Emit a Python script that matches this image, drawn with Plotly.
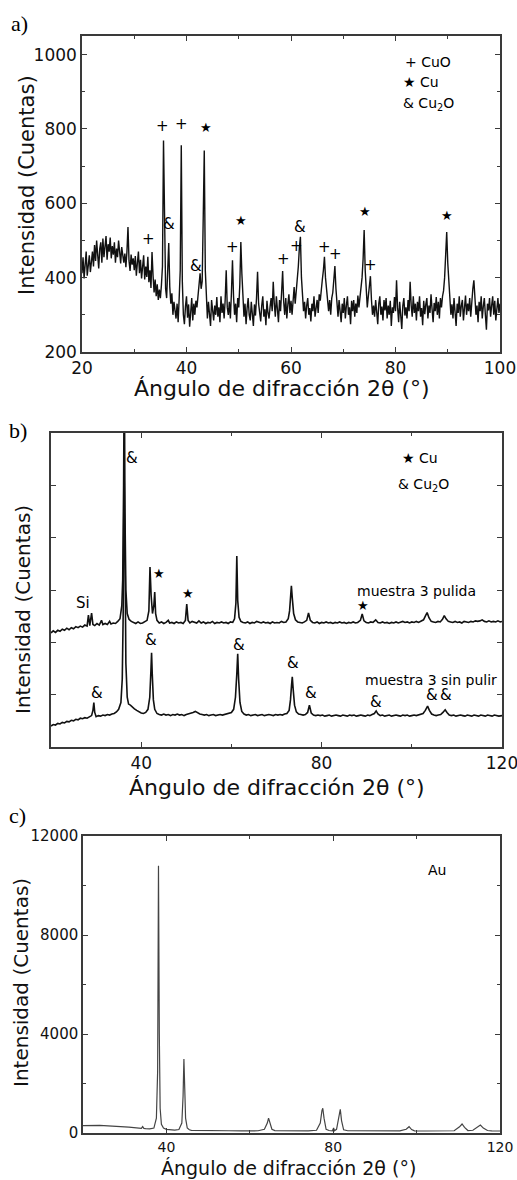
import plotly.graph_objects as go

# ---------------- Panel a: XRD, CuO / Cu / Cu2O (2theta 20..100, step 0.2) -------------
A_X0 = 20.0
A_DX = 0.2
a_counts = [
    412, 455, 398, 440, 470, 405, 432, 460, 415, 448,
    470, 430, 488, 445, 500, 462, 425, 478, 495, 440,
    505, 455, 482, 512, 448, 490, 470, 508, 452, 485,
    462, 495, 440, 478, 455, 500, 470, 438, 482, 460,
    440, 465, 428, 470, 536, 445, 418, 462, 435, 452,
    420, 458, 405, 440, 470, 412, 448, 398, 436, 460,
    395, 430, 402, 456, 388, 420, 372, 469, 405, 360,
    395, 350, 382, 340, 368, 345, 380, 430, 769, 460,
    370, 345, 410, 493, 375, 330, 358, 300, 335, 310,
    290, 330, 280, 345, 420, 756, 390, 300, 275, 322,
    350, 292, 328, 268, 315, 345, 285, 330, 300, 338,
    320, 355, 380, 412, 370, 390, 560, 742, 420, 325,
    290, 335, 300, 270, 340, 310, 285, 325, 300, 348,
    295, 320, 280, 350, 305, 330, 290, 340, 420, 320,
    300, 335, 290, 360, 447, 350, 300, 330, 280, 345,
    320, 380, 496, 410, 340, 295, 330, 275, 318, 345,
    300, 285, 335, 310, 270, 328, 298, 345, 416, 330,
    300, 282, 325, 350, 295, 315, 272, 338, 305, 290,
    322, 345, 310, 389, 330, 295, 350, 318, 280, 340,
    310, 360, 418, 335, 300, 345, 290, 328, 355, 305,
    338, 300, 352, 375, 330, 360, 390, 430, 480, 510,
    400, 350, 310, 335, 290, 325, 345, 300, 318, 282,
    330, 310, 350, 295, 322, 340, 305, 355, 338, 380,
    395, 420, 456, 400, 370, 345, 310, 340, 300, 345,
    360, 395, 431, 370, 330, 295, 340, 315, 280, 330,
    305, 345, 290, 325, 350, 300, 320, 275, 338, 310,
    340, 295, 330, 305, 352, 320, 345, 370, 400, 450,
    528, 420, 360, 320, 350, 380, 404, 340, 300, 325,
    295, 340, 310, 275, 330, 350, 300, 322, 285, 340,
    312, 345, 290, 325, 300, 338, 270, 320, 305, 348,
    310, 393, 320, 280, 335, 300, 262, 325, 345, 298,
    320, 290, 340, 310, 389, 325, 295, 350, 305, 330,
    285, 335, 310, 350, 295, 318, 272, 338, 302, 328,
    345, 290, 325, 305, 355, 315, 280, 332, 310, 348,
    300, 335, 290, 345, 320, 350, 365, 400, 460, 523,
    440, 380, 340, 300, 328, 290, 345, 315, 270, 330,
    305, 350, 295, 325, 340, 285, 318, 352, 300, 330,
    310, 345, 295, 340, 370, 393, 350, 300, 325, 280,
    335, 310, 350, 290, 322, 345, 300, 260, 330, 312,
    345, 295, 325, 350, 300, 338, 285, 320, 345, 305,
    330,
]
a_mark_text = ["+", "+", "★", "&", "+", "&", "+", "★", "&", "+", "+", "+", "+", "★", "+", "★"]
a_mark_x = [35.4, 39.1, 43.7, 36.7, 32.7, 41.8, 48.8, 50.5, 61.8, 61.0, 58.5, 66.5, 68.5, 74.2, 75.2, 89.8]
a_mark_y = [807, 812, 805, 545, 503, 432, 483, 554, 536, 485, 450, 483, 463, 579, 433, 568]
a_legend_text = ["+ CuO", "★ Cu", "& Cu<sub>2</sub>O"]
a_legend_x = [81.4, 81.1, 81.1]
a_legend_y = [981, 925, 866]

# ---------------- Panel b: muestra 3 pulida / sin pulir (arbitrary units) ----------------
b_pul_x = [20.0, 20.5, 21.0, 21.5, 22.0, 22.5, 23.0, 23.5, 24.0, 24.5, 25.0, 25.5, 26.0, 26.5, 27.0, 27.5,
           28.0, 28.3, 28.6, 29.0, 29.3, 29.7, 30.2, 30.7, 31.2, 31.5, 32.0, 32.5, 33.0, 33.3, 33.8, 34.3,
           34.8, 35.3, 35.7, 35.9, 36.1, 36.25, 36.4, 36.6, 36.9, 37.3, 37.8, 38.3, 38.8, 39.3, 39.8, 40.3,
           40.8, 41.3, 41.7, 41.95, 42.2, 42.5, 42.8, 43.0, 43.2, 43.5, 44.0, 44.5, 45.0, 45.5, 46.0, 46.3,
           46.8, 47.3, 47.8, 48.3, 48.8, 49.3, 49.8, 50.1, 50.4, 50.8, 51.3, 51.8, 52.3, 52.8, 53.3, 53.8,
           54.3, 54.8, 55.3, 55.8, 56.3, 56.8, 57.3, 57.8, 58.3, 58.8, 59.3, 59.8, 60.3, 60.7, 61.0, 61.2,
           61.4, 61.7, 62.1, 62.6, 63.1, 63.6, 64.1, 64.6, 65.1, 65.6, 66.1, 66.6, 67.1, 67.6, 68.1, 68.6,
           69.1, 69.6, 70.1, 70.6, 71.1, 71.6, 72.1, 72.6, 72.9, 73.15, 73.3, 73.5, 73.8, 74.2, 74.7, 75.2,
           75.7, 76.2, 76.7, 77.1, 77.5, 78.0, 78.5, 79.0, 79.5, 80.0, 80.5, 81.0, 81.5, 82.0, 82.5, 83.0,
           83.5, 84.0, 84.5, 85.0, 85.5, 86.0, 86.5, 87.0, 87.5, 88.0, 88.6, 89.0, 89.4, 89.9, 90.4, 90.9,
           91.4, 92.0, 92.5, 93.0, 93.5, 94.0, 94.5, 95.0, 95.5, 96.0, 96.5, 97.0, 97.5, 98.0, 98.5, 99.0,
           99.5, 100.0, 100.5, 101.0, 101.5, 102.0, 102.6, 103.0, 103.4, 103.8, 104.3, 104.8, 105.3, 105.8,
           106.3, 106.8, 107.2, 107.6, 108.1, 108.6, 109.1, 109.6, 110.1, 110.6, 111.1, 111.6, 112.1, 112.6,
           113.1, 113.6, 114.1, 114.6, 115.1, 115.6, 116.1, 116.6, 117.1, 117.6, 118.1, 118.6, 119.1, 119.6,
           120.0]
b_pul_y = [2.18, 2.22, 2.19, 2.23, 2.21, 2.25, 2.23, 2.27, 2.24, 2.28, 2.26, 2.30, 2.28, 2.31, 2.29, 2.33,
           2.31, 2.52, 2.32, 2.56, 2.34, 2.32, 2.36, 2.33, 2.42, 2.34, 2.36, 2.34, 2.40, 2.35, 2.37, 2.36,
           2.40, 2.45, 2.70, 3.20, 5.00, 7.50, 4.50, 3.00, 2.55, 2.44, 2.40, 2.38, 2.36, 2.39, 2.36, 2.37,
           2.40, 2.42, 2.60, 3.44, 2.90, 2.55, 2.70, 2.96, 2.55, 2.42, 2.37, 2.39, 2.36, 2.38, 2.42, 2.37,
           2.38, 2.36, 2.39, 2.37, 2.38, 2.36, 2.42, 2.73, 2.42, 2.37, 2.40, 2.38, 2.37, 2.41, 2.37, 2.39,
           2.36, 2.38, 2.37, 2.40, 2.36, 2.38, 2.37, 2.39, 2.37, 2.38, 2.36, 2.39, 2.38, 2.45, 2.75, 3.65,
           2.80, 2.48, 2.40, 2.38, 2.37, 2.39, 2.36, 2.38, 2.37, 2.40, 2.38, 2.37, 2.39, 2.37, 2.38, 2.36,
           2.39, 2.37, 2.38, 2.37, 2.40, 2.38, 2.39, 2.45, 2.60, 2.85, 3.08, 2.85, 2.55, 2.43, 2.39, 2.38,
           2.37, 2.39, 2.42, 2.56, 2.42, 2.38, 2.37, 2.39, 2.36, 2.38, 2.37, 2.39, 2.37, 2.38, 2.36, 2.38,
           2.37, 2.39, 2.37, 2.38, 2.36, 2.38, 2.37, 2.39, 2.37, 2.38, 2.42, 2.54, 2.41, 2.38, 2.37, 2.39,
           2.38, 2.43, 2.38, 2.37, 2.39, 2.37, 2.38, 2.36, 2.38, 2.37, 2.39, 2.37, 2.38, 2.40, 2.38, 2.39,
           2.37, 2.39, 2.38, 2.40, 2.38, 2.40, 2.43, 2.50, 2.57, 2.47, 2.40, 2.39, 2.38, 2.40,
           2.39, 2.44, 2.51, 2.45, 2.40, 2.39, 2.38, 2.40, 2.38, 2.39, 2.37, 2.40, 2.39, 2.38,
           2.40, 2.39, 2.41, 2.40, 2.41, 2.43, 2.40, 2.39, 2.41, 2.39, 2.40, 2.39, 2.41, 2.39,
           2.40]

b_sin_x = [20.0, 20.5, 21.0, 21.5, 22.0, 22.5, 23.0, 23.5, 24.0, 24.5, 25.0, 25.5, 26.0, 26.5, 27.0, 27.5,
           28.0, 28.5, 29.0, 29.3, 29.5, 29.7, 30.0, 30.5, 31.0, 31.5, 32.0, 32.5, 33.0, 33.5, 34.0, 34.5,
           35.0, 35.5, 35.8, 36.0, 36.2, 36.4, 36.6, 36.9, 37.2, 37.6, 38.0, 38.5, 39.0, 39.5, 40.0, 40.5,
           41.0, 41.5, 41.9, 42.15, 42.3, 42.45, 42.7, 43.0, 43.5, 44.0, 44.5, 45.0, 45.5, 46.0, 46.5, 47.0,
           47.5, 48.0, 48.5, 49.0, 49.5, 50.0, 50.5, 51.0, 51.5, 52.0, 52.5, 53.0, 53.5, 54.0, 54.5, 55.0,
           55.5, 56.0, 56.5, 57.0, 57.5, 58.0, 58.5, 59.0, 59.5, 60.0, 60.5, 60.9, 61.2, 61.4, 61.6, 61.9,
           62.3, 62.8, 63.3, 63.8, 64.3, 64.8, 65.3, 65.8, 66.3, 66.8, 67.3, 67.8, 68.3, 68.8, 69.3, 69.8,
           70.3, 70.8, 71.3, 71.8, 72.3, 72.8, 73.1, 73.35, 73.5, 73.7, 74.0, 74.4, 74.9, 75.4, 75.9, 76.4,
           76.9, 77.3, 77.7, 78.2, 78.7, 79.2, 79.7, 80.2, 80.7, 81.2, 81.7, 82.2, 82.7, 83.2, 83.7, 84.2,
           84.7, 85.2, 85.7, 86.2, 86.7, 87.2, 87.7, 88.2, 88.7, 89.2, 89.7, 90.2, 90.7, 91.2, 91.7, 92.1,
           92.5, 93.0, 93.5, 94.0, 94.5, 95.0, 95.5, 96.0, 96.5, 97.0, 97.5, 98.0, 98.5, 99.0, 99.5, 100.0,
           100.5, 101.0, 101.5, 102.0, 102.5, 103.0, 103.5, 103.9, 104.4, 104.9, 105.4, 105.9, 106.4, 106.9,
           107.4, 107.8, 108.3, 108.8, 109.3, 109.8, 110.3, 110.8, 111.3, 111.8, 112.3, 112.8, 113.3, 113.8,
           114.3, 114.8, 115.3, 115.8, 116.3, 116.8, 117.3, 117.8, 118.3, 118.8, 119.3, 120.0]
b_sin_y = [0.40, 0.43, 0.42, 0.45, 0.44, 0.47, 0.46, 0.49, 0.48, 0.51, 0.50, 0.53, 0.52, 0.55, 0.54, 0.56,
           0.55, 0.58, 0.60, 0.70, 0.85, 0.66, 0.58, 0.60, 0.59, 0.61, 0.60, 0.62, 0.61, 0.63, 0.64, 0.67,
           0.72, 0.85, 1.30, 2.50, 5.30, 4.00, 1.60, 0.95, 0.82, 0.80, 0.76, 0.73, 0.70, 0.67, 0.65, 0.64,
           0.66, 0.72, 0.95, 1.45, 1.80, 1.40, 0.90, 0.72, 0.64, 0.62, 0.61, 0.63, 0.61, 0.62, 0.60, 0.62,
           0.61, 0.63, 0.61, 0.62, 0.60, 0.62, 0.63, 0.64, 0.66, 0.68, 0.65, 0.63, 0.62, 0.61, 0.62, 0.60,
           0.61, 0.62, 0.60, 0.61, 0.62, 0.61, 0.62, 0.63, 0.64, 0.66, 0.72, 0.95, 1.40, 1.78, 1.30, 0.85,
           0.68, 0.63, 0.61, 0.62, 0.60, 0.61, 0.62, 0.60, 0.61, 0.62, 0.60, 0.61, 0.62, 0.61, 0.60, 0.62,
           0.61, 0.62, 0.61, 0.63, 0.64, 0.70, 0.90, 1.20, 1.34, 1.10, 0.80, 0.67, 0.63, 0.62, 0.61, 0.62,
           0.66, 0.80, 0.65, 0.61, 0.60, 0.61, 0.60, 0.61, 0.59, 0.60, 0.61, 0.59, 0.60, 0.61, 0.60, 0.59,
           0.61, 0.60, 0.59, 0.61, 0.60, 0.61, 0.59, 0.60, 0.61, 0.60, 0.59, 0.61, 0.60, 0.62, 0.64, 0.69,
           0.63, 0.60, 0.61, 0.59, 0.60, 0.61, 0.59, 0.60, 0.61, 0.60, 0.59, 0.61, 0.60, 0.61, 0.59, 0.60,
           0.61, 0.60, 0.61, 0.62, 0.64, 0.70, 0.78, 0.70, 0.63, 0.61, 0.60, 0.61, 0.62, 0.66,
           0.71, 0.66, 0.61, 0.60, 0.61, 0.59, 0.60, 0.61, 0.60, 0.59, 0.61, 0.60, 0.59, 0.61,
           0.60, 0.59, 0.61, 0.60, 0.59, 0.61, 0.60, 0.59, 0.61, 0.60, 0.59, 0.60]
b_mark_text = ["&", "★", "★", "Si", "&", "&", "&", "&", "&", "&", "&", "&", "★"]
b_mark_x = [38.0, 43.9, 50.3, 27.0, 30.2, 42.1, 61.6, 73.6, 77.7, 92.1, 104.5, 107.6, 89.2]
b_mark_y = [5.53, 3.31, 2.94, 2.75, 1.03, 2.05, 1.95, 1.61, 1.03, 0.86, 0.99, 0.99, 2.71]
b_label_text = ["muestra 3 pulida", "muestra 3 sin pulir"]
b_label_x = [101.0, 104.3]
b_label_y = [2.98, 1.28]
b_legend_text = ["★ Cu", "& Cu<sub>2</sub>O"]
b_legend_x = [97.4, 96.5]
b_legend_y = [5.53, 5.01]

# ---------------- Panel c: Au ---------------------------------------------------------
c_x = [20, 21, 22, 23, 24, 25, 26, 27, 28, 29, 30, 31, 32, 33, 34, 34.3, 34.6, 35, 36, 37, 37.6, 37.9, 38.1,
       38.3, 38.5, 38.8, 39.3, 40, 41, 42, 43, 43.7, 44.0, 44.2, 44.4, 44.6, 45, 45.5, 46, 48, 50, 52, 55,
       58, 60, 62, 63.5, 64.2, 64.5, 64.8, 65.3, 66, 68, 70, 72, 74, 76, 76.9, 77.3, 77.5, 77.8, 78.3, 79,
       79.8, 80.1, 80.3, 80.8, 81.4, 81.7, 82.0, 82.5, 83.5, 86, 90, 94, 96, 97.5, 98.2, 98.8, 99.5, 102,
       106, 109, 110.3, 110.9, 111.5, 112.3, 113.5, 114.6, 115.3, 116, 117, 118, 120]
c_y = [300, 310, 305, 320, 310, 300, 295, 280, 270, 260, 250, 235, 220, 205, 190, 260, 185, 175, 170, 200,
       600, 2500, 10800, 4000, 1000, 350, 200, 150, 130, 120, 140, 400, 1500, 2990, 1800, 600, 200, 130,
       110, 100, 95, 90, 90, 85, 80, 90, 150, 400, 600, 400, 150, 95, 85, 80, 85, 85, 110, 400, 900, 1000,
       600, 150, 100, 90, 200, 90, 150, 600, 960, 500, 130, 90, 85, 80, 80, 85, 150, 255, 140, 85, 80,
       80, 90, 250, 364, 230, 100, 110, 250, 323, 200, 100, 85, 80]
c_label_text = ["Au"]
c_label_x = [105.0]
c_label_y = [10630]

# ---------------- Figure -----------------------------------------------------------------
W, H = 517, 1180
SANS = "DejaVu Sans"
SERIF = "Liberation Serif"
INK = "#111111"
AX = "#3a3a3a"

fig = go.Figure()
fig.add_trace(go.Scatter(y=a_counts, x0=A_X0, dx=A_DX, mode="lines",
                         line=dict(color="#111111", width=1.4), xaxis="x", yaxis="y", showlegend=False))
fig.add_trace(go.Scatter(x=b_pul_x, y=b_pul_y, mode="lines",
                         line=dict(color="#111111", width=1.6), xaxis="x2", yaxis="y2", showlegend=False))
fig.add_trace(go.Scatter(x=b_sin_x, y=b_sin_y, mode="lines",
                         line=dict(color="#111111", width=1.6), xaxis="x2", yaxis="y2", showlegend=False))
fig.add_trace(go.Scatter(x=c_x, y=c_y, mode="lines",
                         line=dict(color="#444444", width=1.2), xaxis="x3", yaxis="y3", showlegend=False))


def px_x(p):
    return p / W


def px_y(p):
    return 1 - p / H


base = dict(showline=True, linecolor=AX, linewidth=1.5, mirror="ticks", ticks="inside",
            ticklen=5, tickwidth=1.2, tickcolor=AX, showgrid=False, zeroline=False,
            automargin=False, ticklabeloverflow="allow", tickformat="d",
            tickfont=dict(family=SANS, size=17, color=INK))

fig.update_layout(
    width=W, height=H, autosize=False,
    margin=dict(l=0, r=0, t=0, b=0),
    paper_bgcolor="white", plot_bgcolor="white",
    template="none",
    xaxis=dict(base, domain=[px_x(82), px_x(500)], anchor="y", range=[20, 100], tick0=0, dtick=20,
               minor=dict(ticks="inside", ticklen=3, dtick=10, tickcolor=AX)),
    yaxis=dict(base, domain=[px_y(352), px_y(36)], anchor="x", range=[200, 1050], tick0=0, dtick=200,
               minor=dict(ticks="inside", ticklen=3, dtick=100, tickcolor=AX)),
    xaxis2=dict(base, domain=[px_x(51), px_x(502)], anchor="y2", range=[20, 120], tick0=0, dtick=40,
                minor=dict(ticks="inside", ticklen=3, dtick=20, tickcolor=AX)),
    yaxis2=dict(base, domain=[px_y(747), px_y(433)], anchor="x2", range=[0, 6], tick0=0, dtick=1,
                showticklabels=False),
    xaxis3=dict(base, domain=[px_x(83), px_x(500)], anchor="y3", range=[20, 120], tick0=0, dtick=40,
                tickfont=dict(family=SANS, size=14, color=INK),
                minor=dict(ticks="inside", ticklen=3, dtick=20, tickcolor=AX)),
    yaxis3=dict(base, domain=[px_y(1133), px_y(836)], anchor="x3", range=[0, 12000], tick0=0, dtick=4000,
                tickfont=dict(family=SANS, size=15, color=INK),
                minor=dict(ticks="inside", ticklen=3, dtick=2000, tickcolor=AX)),
)

ann = []
# peak markers and legends
for t, x, y in zip(a_mark_text, a_mark_x, a_mark_y):
    ann.append(dict(text=t, x=x, y=y, xref="x", yref="y", showarrow=False,
                    font=dict(family=SANS, size=13 if t == "★" else 15, color="#000000")))
for t, x, y in zip(a_legend_text, a_legend_x, a_legend_y):
    ann.append(dict(text=t, x=x, y=y, xref="x", yref="y", showarrow=False, xanchor="left",
                    font=dict(family=SANS, size=14, color="#000000")))
for t, x, y in zip(b_mark_text, b_mark_x, b_mark_y):
    ann.append(dict(text=t, x=x, y=y, xref="x2", yref="y2", showarrow=False,
                    font=dict(family=SANS, size=13 if t == "★" else 15, color="#000000")))
for t, x, y in zip(b_label_text, b_label_x, b_label_y):
    ann.append(dict(text=t, x=x, y=y, xref="x2", yref="y2", showarrow=False,
                    font=dict(family=SANS, size=14, color="#000000")))
for t, x, y in zip(b_legend_text, b_legend_x, b_legend_y):
    ann.append(dict(text=t, x=x, y=y, xref="x2", yref="y2", showarrow=False, xanchor="left",
                    font=dict(family=SANS, size=14, color="#000000")))
for t, x, y in zip(c_label_text, c_label_x, c_label_y):
    ann.append(dict(text=t, x=x, y=y, xref="x3", yref="y3", showarrow=False,
                    font=dict(family=SANS, size=14, color="#000000")))

# axis titles
xtitle = "Ángulo de difracción 2θ (°)"
ytitle = "Intensidad (Cuentas)"
for cx, cy, fs in [(282, 389, 22), (277, 787, 22), (288, 1168, 19)]:
    ann.append(dict(text=xtitle, x=px_x(cx), y=px_y(cy), xref="paper", yref="paper", showarrow=False,
                    xanchor="center", yanchor="middle", font=dict(family=SANS, size=fs, color=INK)))
for cx, cy, fs in [(27, 185, 21), (23, 610, 20), (21, 983, 20)]:
    ann.append(dict(text=ytitle, x=px_x(cx), y=px_y(cy), xref="paper", yref="paper", showarrow=False,
                    textangle=-90, xanchor="center", yanchor="middle",
                    font=dict(family=SANS, size=fs, color=INK)))
# panel letters
for t, lx, ty in [("a)", 9, 9), ("b)", 7, 416), ("c)", 7, 801)]:
    ann.append(dict(text=t, x=px_x(lx), y=px_y(ty), xref="paper", yref="paper", showarrow=False,
                    xanchor="left", yanchor="top", font=dict(family=SERIF, size=22, color="#000000")))

fig.update_layout(annotations=ann)
fig.write_html("out.html")
